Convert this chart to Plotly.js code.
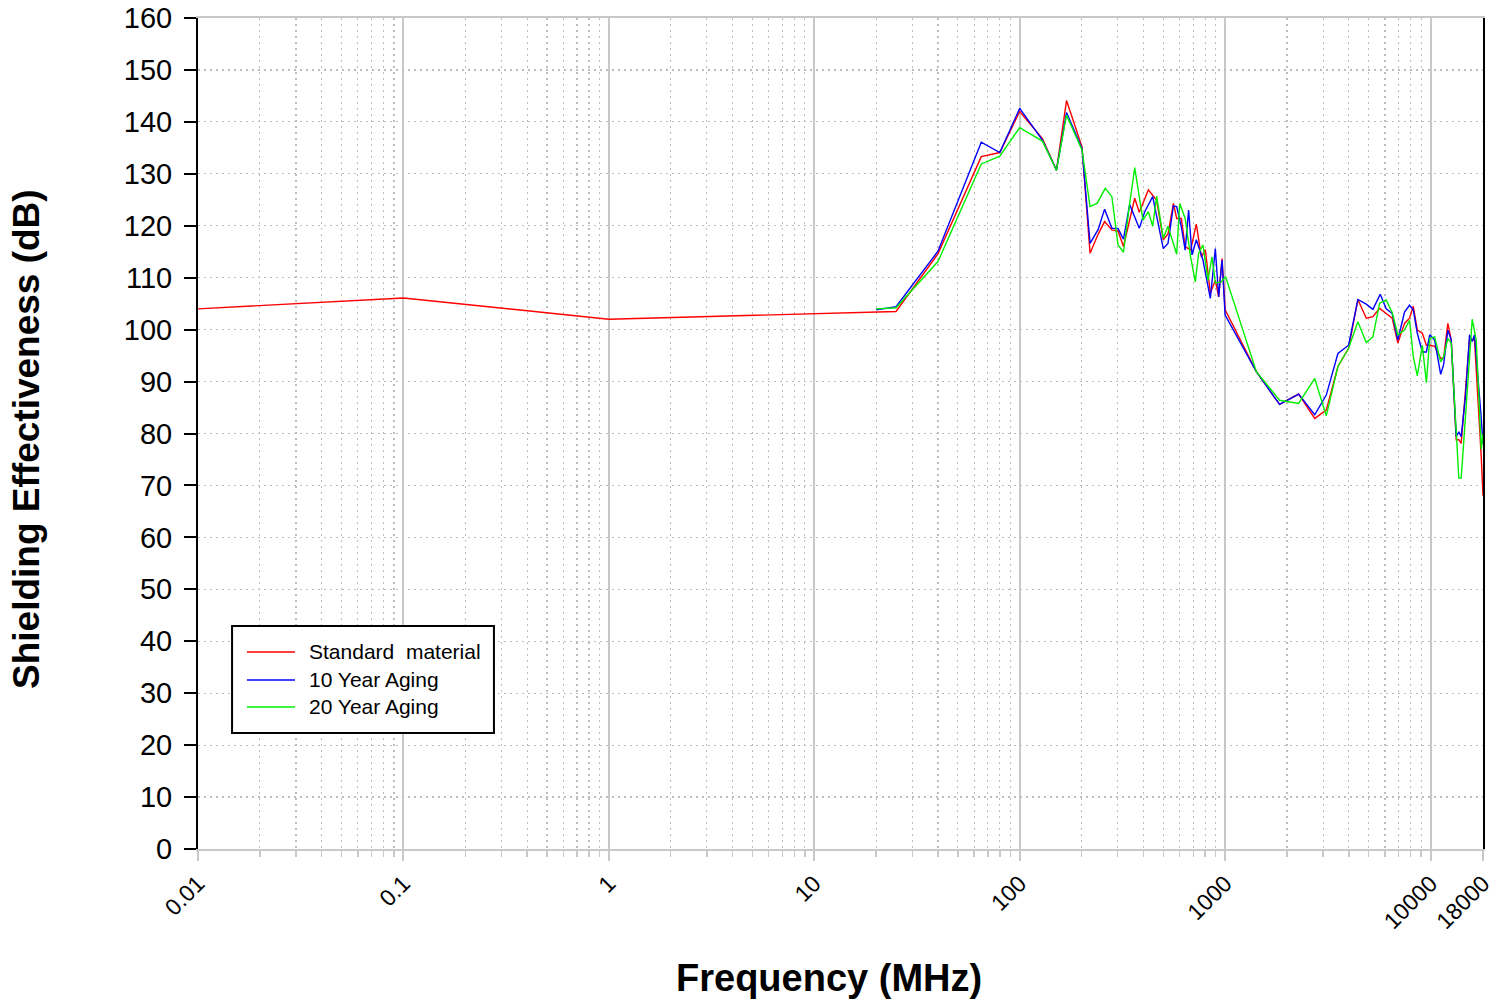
<!DOCTYPE html>
<html>
<head>
<meta charset="utf-8">
<script src="https://cdn.plot.ly/plotly-3.0.1.min.js"></script>
<style>
html,body{margin:0;padding:0;background:#fff;}
#chart{width:1497px;height:1003px;}
</style>
</head>
<body>
<div id="chart"></div>
<script>
// ---- Data (frequency in MHz, shielding effectiveness in dB) ----
var freqStd = [0.01, 0.1, 1, 20, 25, 40, 65, 80, 100, 129, 151, 169, 201, 220, 241, 259, 281, 301, 320, 363, 382, 423, 464, 500, 527, 560, 581, 612, 639, 679, 724, 766, 801, 847, 896, 930, 966, 1000,
  1419, 1841, 2280, 2730, 3107, 3540, 3990, 4428, 4864, 5240, 5650, 6085, 6505, 6930, 7470, 7900, 8240, 8620, 9120, 9540, 9910, 10470, 11200, 11570, 12140, 12610, 13330, 13730, 14100, 15480, 16370, 17650, 18000];
var seStd = [104.0, 106.1, 102.0, 103.4, 103.5, 114.6, 133.3, 134.1, 142.0, 136.8, 130.7, 144.1, 135.2, 114.7, 118.4, 120.8, 119.2, 119.0, 116.0, 125.3, 122.6, 126.9, 124.9, 117.3, 118.4, 124.3, 121.4, 121.4, 116.0, 115.3, 120.3, 114.0, 115.4, 107.0, 109.5, 106.3, 113.7, 103.8,
  91.9, 85.6, 87.6, 82.9, 84.5, 92.9, 96.4, 105.8, 102.2, 102.5, 104.1, 103.1, 102.2, 97.4, 101.2, 102.2, 104.5, 99.9, 99.3, 97.0, 97.0, 96.8, 94.5, 94.5, 101.2, 98.0, 78.8, 78.8, 78.1, 98.0, 98.0, 75.5, 68.0];

var freq10 = [20, 25, 40, 65, 80, 100, 129, 151, 169, 201, 220, 241, 259, 281, 301, 320, 343, 382, 406, 444, 500, 527, 560, 581, 612, 639, 664, 690, 724, 780, 847, 896, 930, 966, 1000,
  1419, 1841, 2280, 2730, 3107, 3540, 3990, 4428, 4864, 5240, 5690, 6085, 6505, 6930, 7470, 7900, 8240, 8620, 9120, 9540, 9910, 10470, 11200, 11570, 12140, 12610, 13330, 13730, 14100, 14790, 15480, 15950, 16370, 17650, 18000];
var se10 = [103.8, 104.4, 115.1, 136.1, 134.1, 142.6, 136.5, 130.7, 141.8, 134.9, 116.6, 119.3, 123.2, 119.5, 119.5, 117.4, 124.1, 119.5, 122.7, 125.6, 115.6, 116.6, 123.8, 123.7, 119.8, 115.3, 123.0, 114.4, 117.3, 113.4, 106.0, 115.6, 106.3, 113.4, 102.8,
  91.9, 85.6, 87.6, 83.6, 87.4, 95.4, 97.0, 105.8, 104.9, 103.9, 106.8, 104.0, 103.1, 98.0, 103.4, 104.7, 103.8, 99.3, 95.7, 95.7, 99.0, 98.0, 91.4, 93.2, 99.9, 98.0, 79.4, 80.3, 79.4, 87.1, 99.0, 97.7, 99.0, 82.9, 78.0];

var freq20 = [20, 25, 40, 65, 80, 100, 129, 151, 169, 201, 220, 238, 261, 281, 301, 320, 343, 363, 398, 423, 444, 464, 500, 527, 581, 601, 639, 679, 716, 743, 780, 825, 863, 896, 957, 1005,
  1419, 1841, 2280, 2730, 3107, 3540, 3990, 4428, 4864, 5240, 5650, 6085, 6505, 6930, 7470, 7900, 8240, 8620, 9120, 9540, 9910, 10470, 11200, 11570, 12140, 12610, 13730, 14100, 15950, 16680, 17650, 18000];
var se20 = [104.0, 104.2, 113.1, 131.9, 133.4, 138.9, 136.3, 130.7, 141.3, 134.6, 123.7, 124.3, 127.2, 125.6, 116.3, 114.9, 124.3, 131.2, 121.1, 122.7, 119.9, 125.7, 117.6, 119.9, 114.5, 124.3, 121.4, 114.0, 109.2, 114.7, 116.3, 109.5, 114.0, 109.0, 109.2, 110.2,
  91.9, 86.4, 85.8, 90.6, 83.4, 92.9, 96.4, 101.5, 97.5, 98.6, 105.1, 105.7, 103.3, 99.0, 99.9, 101.8, 94.8, 91.1, 97.0, 89.8, 98.3, 98.6, 93.8, 94.8, 98.3, 97.4, 71.4, 71.4, 102.0, 98.0, 77.0, 80.0];

var seriesNames = ["Standard\u00a0\u00a0material", "10 Year Aging", "20 Year Aging"];
var seriesColors = ["#ff0000", "#0000ff", "#00f000"];
var xTickVals = [0.01, 0.1, 1, 10, 100, 1000, 10000, 18000];
var xTickText = ["0.01", "0.1", "1", "10", "100", "1000", "10000", "18000"];
var xTitle = "Frequency (MHz)";
var yTitle = "Shielding Effectiveness (dB)";

// minor tick positions (2..9 within each decade)
var minorVals = [];
for (var d = -2; d <= 4; d++) {
  for (var m = 2; m <= 9; m++) {
    var v = m * Math.pow(10, d);
    if (v < 18000) minorVals.push(v);
  }
}

var FONT = "Liberation Sans, Arial, Helvetica, sans-serif";

var traces = [
  {x: freqStd, y: seStd, name: seriesNames[0], type: "scatter", mode: "lines", line: {color: seriesColors[0], width: 1.4}},
  {x: freq10, y: se10, name: seriesNames[1], type: "scatter", mode: "lines", line: {color: seriesColors[1], width: 1.4}},
  {x: freq20, y: se20, name: seriesNames[2], type: "scatter", mode: "lines", line: {color: seriesColors[2], width: 1.4}}
];

// Legend box (paper coordinates), drawn as shapes + text annotations
var legBox = {x0: 0.0265, x1: 0.2303, y0: 0.1396, y1: 0.2683};
var legRows = [0.2371, 0.2034, 0.1709];
var legLineX = [0.0381, 0.0755];
var legTextX = 0.0848;

var shapes = [{
  type: "rect", xref: "paper", yref: "paper",
  x0: legBox.x0, x1: legBox.x1, y0: legBox.y0, y1: legBox.y1,
  line: {color: "#000000", width: 2}, fillcolor: "#ffffff", layer: "above"
}];
var annotations = [];
for (var i = 0; i < seriesNames.length; i++) {
  shapes.push({
    type: "line", xref: "paper", yref: "paper",
    x0: legLineX[0], x1: legLineX[1], y0: legRows[i], y1: legRows[i],
    line: {color: seriesColors[i], width: 1.4}, layer: "above"
  });
  annotations.push({
    xref: "paper", yref: "paper", x: legTextX, y: legRows[i],
    xanchor: "left", yanchor: "middle", showarrow: false,
    text: seriesNames[i], font: {family: FONT, size: 21, color: "#000000"}
  });
}
// Axis titles
annotations.push({
  xref: "paper", yref: "paper", x: 0.4907, y: -0.1552,
  xanchor: "center", yanchor: "middle", showarrow: false,
  text: "<b>" + xTitle + "</b>", font: {family: FONT, size: 38, color: "#000000"}
});
annotations.push({
  xref: "paper", yref: "paper", x: -0.1331, y: 0.4934,
  xanchor: "center", yanchor: "middle", showarrow: false, textangle: -90,
  text: "<b>" + yTitle + "</b>", font: {family: FONT, size: 37, color: "#000000"}
});

var layout = {
  width: 1497,
  height: 1003,
  paper_bgcolor: "#ffffff",
  plot_bgcolor: "#ffffff",
  margin: {l: 198, r: 14, t: 18, b: 154},
  showlegend: false,
  hovermode: false,
  font: {family: FONT, color: "#000000"},
  shapes: shapes,
  annotations: annotations,
  xaxis: {
    type: "log",
    range: [Math.log10(0.01), Math.log10(18000)],
    tickmode: "array",
    tickvals: xTickVals,
    ticktext: xTickText,
    tickangle: -45,
    tickfont: {family: FONT, size: 23, color: "#000000"},
    ticks: "outside", ticklen: 10, tickwidth: 2, tickcolor: "#c8c8c8",
    showgrid: true, gridcolor: "#c8c8c8", gridwidth: 2,
    showline: true, linecolor: "#c8c8c8", linewidth: 2, mirror: true,
    zeroline: false,
    minor: {
      tickmode: "array", tickvals: minorVals,
      ticks: "outside", ticklen: 6, tickwidth: 1.5, tickcolor: "#c8c8c8",
      showgrid: true, gridcolor: "#bdbdbd", gridwidth: 1.2, griddash: "2px,4px"
    }
  },
  yaxis: {
    range: [0, 160],
    tickmode: "linear", tick0: 0, dtick: 10,
    tickfont: {family: FONT, size: 29, color: "#000000"},
    ticklabelstandoff: 6,
    ticks: "outside", ticklen: 12, tickwidth: 2, tickcolor: "#000000",
    showgrid: true, gridcolor: "#bdbdbd", gridwidth: 1.2, griddash: "2px,4px",
    showline: true, linecolor: "#000000", linewidth: 2, mirror: true,
    zeroline: false
  }
};

Plotly.newPlot("chart", traces, layout, {displayModeBar: false, staticPlot: true});
</script>
</body>
</html>
